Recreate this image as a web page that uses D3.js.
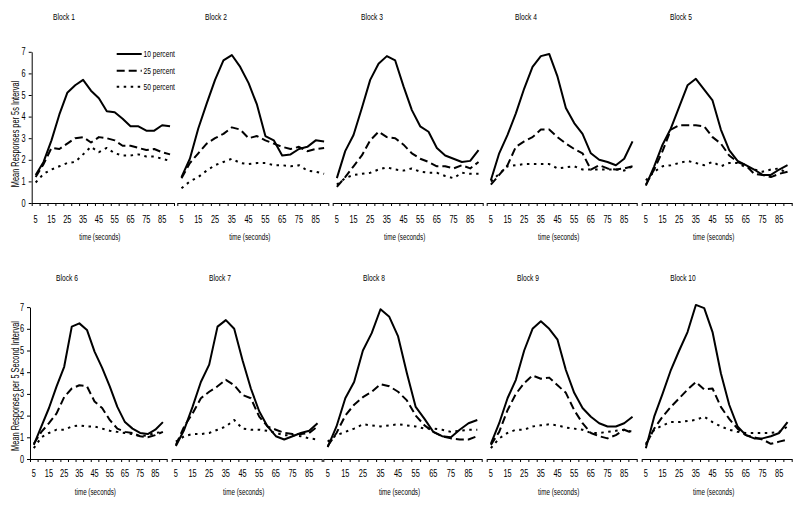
<!DOCTYPE html>
<html><head><meta charset="utf-8">
<script src="https://cdn.jsdelivr.net/npm/d3@7"></script>
<style>
html,body{margin:0;padding:0;background:#fff;}
svg text{font-family:"Liberation Sans",Arial,sans-serif;fill:#000;}
</style></head>
<body><svg id="c" width="800" height="508"></svg>
<script>
// ---- data ----
const times = [5,10,15,20,25,30,35,40,45,50,55,60,65,70,75,80,85,90];
const xTickLabels = [5,15,25,35,45,55,65,75,85];
const yTicks = [0,1,2,3,4,5,6,7];
const blockNames = ["Block 1","Block 2","Block 3","Block 4","Block 5","Block 6","Block 7","Block 8","Block 9","Block 10"];
const seriesNames = ["10 percent","25 percent","50 percent"];
const xTitle = "time (seconds)";
const yTitles = ["Mean Responses per 5s Interval","Mean Responses per 5 Second Interval"];

const pct10 = [
 [1.3,1.9,2.9,4.1,5.1,5.45,5.7,5.2,4.85,4.25,4.2,3.9,3.55,3.55,3.35,3.35,3.6,3.55],
 [1.2,2.05,3.45,4.6,5.7,6.6,6.85,6.3,5.55,4.55,3.1,2.9,2.2,2.25,2.5,2.6,2.9,2.85],
 [1.15,2.4,3.15,4.4,5.7,6.45,6.8,6.6,5.4,4.3,3.55,3.3,2.55,2.2,2.05,1.9,1.95,2.45],
 [1.05,2.3,3.15,4.15,5.3,6.3,6.8,6.9,5.85,4.4,3.7,3.2,2.3,2.0,1.9,1.75,2.05,2.85],
 [0.8,1.7,2.7,3.45,4.45,5.45,5.75,5.25,4.75,3.4,2.45,1.95,1.75,1.55,1.3,1.3,1.55,1.75],
 [0.65,1.5,2.35,3.35,4.25,6.1,6.25,5.95,4.95,4.2,3.35,2.4,1.7,1.4,1.2,1.15,1.35,1.7],
 [0.6,1.35,2.4,3.55,4.35,6.1,6.4,6.0,4.55,3.25,2.2,1.5,1.05,0.9,1.05,1.2,1.3,1.65],
 [0.55,1.5,2.8,3.55,5.0,5.8,6.9,6.55,5.65,3.95,2.4,1.85,1.25,1.05,1.0,1.35,1.65,1.8],
 [0.7,1.65,2.8,3.65,5.0,6.0,6.35,6.0,5.5,4.1,3.05,2.35,1.95,1.65,1.5,1.5,1.65,1.95],
 [0.5,1.95,3.0,4.1,5.0,5.85,7.1,6.95,5.85,3.95,2.5,1.5,1.1,0.95,0.95,1.05,1.2,1.7]
];
const pct25 = [
 [1.2,1.8,2.55,2.5,2.75,3.0,3.05,2.8,3.05,3.0,2.9,2.65,2.65,2.55,2.45,2.5,2.35,2.25],
 [1.15,1.85,2.3,2.75,3.0,3.2,3.5,3.4,3.0,3.1,2.9,2.75,2.6,2.5,2.6,2.4,2.5,2.55],
 [0.75,1.2,1.7,2.2,2.9,3.3,3.05,3.0,2.7,2.3,2.05,1.9,1.7,1.7,1.6,1.75,1.6,1.9],
 [0.85,1.3,1.75,2.6,2.85,3.05,3.4,3.4,3.05,2.75,2.5,2.3,1.55,1.75,1.6,1.55,1.6,1.7],
 [0.85,1.55,2.4,3.4,3.6,3.6,3.6,3.55,3.05,2.75,2.2,1.9,1.75,1.35,1.3,1.2,1.35,1.45],
 [0.7,1.25,1.65,2.1,2.85,3.25,3.4,3.35,2.65,2.35,1.8,1.4,1.25,1.2,1.05,1.0,1.1,1.25],
 [0.65,1.5,2.1,2.8,3.1,3.35,3.65,3.4,2.95,2.8,1.95,1.5,1.35,1.2,1.15,1.15,1.2,1.5],
 [0.6,1.2,2.0,2.5,2.85,3.1,3.45,3.35,3.1,2.7,2.0,1.55,1.25,1.05,0.95,0.9,0.9,1.05],
 [0.65,1.25,2.25,3.0,3.5,3.85,3.7,3.75,3.4,3.05,2.25,1.65,1.2,1.05,0.95,1.1,1.35,1.2],
 [0.65,1.4,1.95,2.4,2.8,3.2,3.55,3.2,3.25,2.4,1.85,1.4,1.1,1.0,0.9,0.7,0.8,0.9]
];
const pct50 = [
 [0.95,1.35,1.55,1.7,1.85,1.9,2.25,2.6,2.35,2.55,2.3,2.2,2.2,2.25,2.15,2.15,2.05,1.95],
 [0.68,1.0,1.2,1.5,1.75,1.9,2.05,1.85,1.8,1.85,1.85,1.75,1.75,1.7,1.75,1.5,1.45,1.35],
 [0.85,1.15,1.3,1.35,1.4,1.55,1.65,1.55,1.5,1.6,1.45,1.4,1.4,1.25,1.15,1.4,1.35,1.35],
 [1.0,1.35,1.7,1.75,1.8,1.8,1.8,1.8,1.6,1.65,1.7,1.55,1.55,1.55,1.55,1.55,1.5,1.7],
 [1.05,1.45,1.7,1.75,1.85,1.95,1.85,1.75,1.9,1.7,1.85,1.85,1.65,1.55,1.45,1.55,1.6,1.35],
 [0.5,1.0,1.2,1.35,1.35,1.5,1.55,1.5,1.5,1.4,1.3,1.25,1.2,1.15,1.05,1.1,1.2,1.25],
 [0.8,1.05,1.15,1.15,1.2,1.35,1.5,1.8,1.4,1.35,1.35,1.3,1.2,1.1,1.1,1.05,0.95,0.9],
 [0.8,1.1,1.25,1.4,1.6,1.55,1.5,1.55,1.6,1.55,1.5,1.4,1.4,1.35,1.25,1.3,1.35,1.35],
 [0.5,0.95,1.2,1.35,1.35,1.5,1.55,1.6,1.55,1.45,1.4,1.35,1.2,1.2,1.25,1.3,1.35,1.25],
 [0.7,1.35,1.55,1.7,1.7,1.75,1.8,1.95,1.7,1.5,1.35,1.25,1.2,1.2,1.2,1.2,1.25,1.5]
];

// ---- layout ----
const panels = [
 {l:31.7,r:174,row:0,yAxis:true, tx:64},
 {l:177.3,r:328.3,row:0,tx:216},
 {l:332.7,r:482.7,row:0,tx:372},
 {l:486.7,r:636.7,row:0,tx:526},
 {l:641.7,r:791.7,row:0,tx:681},
 {l:30,r:166.7,row:1,yAxis:true, tx:67},
 {l:171.7,r:321.7,row:1,tx:220},
 {l:323.3,r:481.7,row:1,tx:374},
 {l:486.7,r:636.7,row:1,tx:528},
 {l:641.7,r:791.7,row:1,tx:683}
];
const rows = [
 {base:203, unit:21.6, titleY:20, tickY:222.5, xtY:239.5, ytY:134},
 {base:459, unit:21.7, titleY:281, tickY:477, xtY:494.5, ytY:386}
];
const styles = [
 {dash:null},
 {dash:"8,4"},
 {dash:"2.5,4.5"}
];
const SX = 0.74; // narrow-font compression

const svg = d3.select("#c");
const seriesData = [pct10, pct25, pct50];

function addText(g, x, y, str, size, anchor, rot) {
  const t = g.append("text")
    .attr("transform", `translate(${x},${y})` + (rot ? ` rotate(${rot})` : "") + ` scale(${SX},1)`)
    .attr("text-anchor", anchor || "middle").attr("font-size", size).text(str);
  return t;
}

panels.forEach((p, bi) => {
  const row = rows[p.row];
  const x = d3.scaleLinear().domain([2.5, 92.5]).range([p.l, p.r]);
  const y = d3.scaleLinear().domain([0, 7]).range([row.base, row.base - 7*row.unit]);
  const g = svg.append("g");

  addText(g, p.tx, row.titleY, blockNames[bi], 9);

  const bounds = times.map(t => t - 2.5).concat([92.5]);
  const ax = g.append("g").attr("transform", `translate(0,${row.base})`)
    .call(d3.axisBottom(x).tickValues(bounds).tickSize(3).tickSizeOuter(0).tickFormat(""));
  ax.selectAll("path,line").attr("stroke","#000").attr("stroke-width",1);

  xTickLabels.forEach(v => addText(g, x(v), row.tickY, v, 10));
  addText(g, (p.l + p.r)/2 - 3, row.xtY, xTitle, 8.5);

  if (p.yAxis) {
    const ay = g.append("g").attr("transform", `translate(${p.l},0)`)
      .call(d3.axisLeft(y).tickValues(yTicks).tickSize(3).tickSizeOuter(0).tickFormat(""));
    ay.selectAll("path,line").attr("stroke","#000").attr("stroke-width",1);
    yTicks.forEach(v => addText(g, p.l - 6, y(v) + 3.5, v, 10, "end"));
    addText(g, 18.5, row.ytY, yTitles[p.row], 10, "middle", -90);
  }

  const line = d3.line().x((d,i) => x(times[i])).y(d => y(d));
  seriesData.forEach((s, si) => {
    const path = g.append("path").datum(s[bi]).attr("d", line)
      .attr("fill","none").attr("stroke","#000").attr("stroke-width",2)
      .attr("stroke-linejoin","round");
    if (styles[si].dash) path.attr("stroke-dasharray", styles[si].dash);
  });
});

// legend in block 1
const legY = [54, 70.7, 86.7];
seriesNames.forEach((n, i) => {
  const l = svg.append("line").attr("x1",116.7).attr("x2",141.7).attr("y1",legY[i]).attr("y2",legY[i])
    .attr("stroke","#000").attr("stroke-width",2);
  if (styles[i].dash) l.attr("stroke-dasharray", styles[i].dash);
  addText(svg, 143.5, legY[i] + 3.2, n, 9, "start");
});
</script></body></html>
